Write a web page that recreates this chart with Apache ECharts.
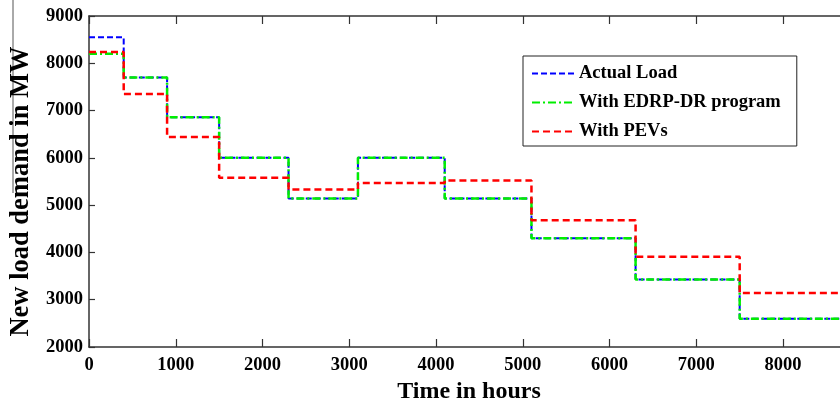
<!DOCTYPE html>
<html>
<head>
<meta charset="utf-8">
<script src="https://cdn.jsdelivr.net/npm/echarts@6/dist/echarts.min.js"></script>
<style>
  html, body { margin: 0; padding: 0; background: #fff; }
  #chart { width: 840px; height: 404px; }
</style>
</head>
<body>
<div id="chart"></div>
<script>
// step boundaries in hours (last one closes the final step)
const hours = [0, 400, 900, 1500, 2300, 3100, 4100, 5100, 6300, 7500, 8760];

// level of each step, MW
const actualLoad = [8550, 7700, 6860, 6000, 5140, 6000, 5140, 4300, 3430, 2600];
const withEdrp = [8200, 7700, 6860, 6000, 5140, 6000, 5140, 4300, 3430, 2600];
const withPevs = [8240, 7350, 6440, 5580, 5330, 5470, 5520, 4680, 3910, 3140];

const seriesNames = ["Actual Load", "With EDRP-DR program", "With PEVs"];

const FONT = "Liberation Serif";

// [hour, value] pairs for step:'end'; last level repeated at the final hour
const toSteps = (levels) =>
  hours.map((h, i) => [h, levels[Math.min(i, levels.length - 1)]]);

const chart = echarts.init(document.getElementById("chart"), null, {
  renderer: "canvas",
});

const axisLine = { show: true, lineStyle: { color: "#333", width: 1.5 } };
const plain = (v) => String(v); // no thousands separator

const option = {
  animation: false,
  backgroundColor: "#fff",
  grid: {
    left: 89,
    top: 16,
    width: 760,
    height: 331,
    containLabel: false,
    outerBoundsMode: "none",
  },
  legend: {
    orient: "vertical",
    left: 523,
    top: 56,
    padding: [8, 16, 5, 8],
    itemGap: 10,
    itemWidth: 42,
    itemHeight: 14,
    borderColor: "#222",
    borderWidth: 1,
    backgroundColor: "#fff",
    itemStyle: { opacity: 0 },
    textStyle: {
      fontFamily: FONT,
      fontWeight: "bold",
      fontSize: 18.5,
      color: "#000",
      lineHeight: 18,
    },
    data: seriesNames,
  },
  xAxis: [
    {
      type: "value",
      min: 0,
      max: 8760,
      interval: 1000,
      name: "Time in hours",
      nameLocation: "middle",
      nameGap: 33,
      nameTextStyle: {
        fontFamily: FONT,
        fontWeight: "bold",
        fontSize: 24,
        color: "#000",
      },
      axisLine: axisLine,
      axisTick: { show: true, inside: true, length: 8, lineStyle: { color: "#333", width: 1.2 } },
      axisLabel: {
        fontFamily: FONT,
        fontWeight: "bold",
        fontSize: 18.5,
        color: "#000",
        margin: 9,
        showMaxLabel: false,
        formatter: plain,
      },
      splitLine: { show: false },
    },
    {
      type: "value",
      position: "top",
      min: 0,
      max: 8760,
      interval: 1000,
      axisLine: axisLine,
      axisTick: { show: true, inside: true, length: 8, lineStyle: { color: "#333", width: 1.2 } },
      axisLabel: { show: false },
      splitLine: { show: false },
    },
  ],
  yAxis: {
    type: "value",
    min: 2000,
    max: 9000,
    interval: 1000,
    name: "New load demand in MW",
    nameLocation: "middle",
    nameGap: 47,
    nameTextStyle: {
      fontFamily: FONT,
      fontWeight: "bold",
      fontSize: 26.5,
      color: "#000",
      padding: [0, 20, 0, 0],
    },
    axisLine: axisLine,
    axisTick: { show: true, inside: true, length: 6, lineStyle: { color: "#333", width: 1.2 } },
    axisLabel: {
      fontFamily: FONT,
      fontWeight: "bold",
      fontSize: 18.5,
      color: "#000",
      margin: 6,
      formatter: plain,
    },
    splitLine: { show: false },
  },
  graphic: [
    {
      type: "line",
      shape: { x1: 13, y1: 0, x2: 13, y2: 193 },
      style: { stroke: "#555", lineWidth: 1 },
    },
  ],
  series: [
    {
      name: seriesNames[0],
      type: "line",
      step: "end",
      showSymbol: false,
      symbol: "none",
      data: toSteps(actualLoad),
      itemStyle: { color: "#0000ff" },
      lineStyle: { color: "#0000ff", width: 2, type: [6, 3] },
    },
    {
      name: seriesNames[1],
      type: "line",
      step: "end",
      showSymbol: false,
      symbol: "none",
      data: toSteps(withEdrp),
      itemStyle: { color: "#00ee00" },
      lineStyle: { color: "#00ee00", width: 2.5, type: [8, 3, 2, 3] },
    },
    {
      name: seriesNames[2],
      type: "line",
      step: "end",
      showSymbol: false,
      symbol: "none",
      data: toSteps(withPevs),
      itemStyle: { color: "#ff0000" },
      lineStyle: { color: "#ff0000", width: 2.5, type: [7, 4] },
    },
  ],
};

chart.setOption(option);
</script>
</body>
</html>
